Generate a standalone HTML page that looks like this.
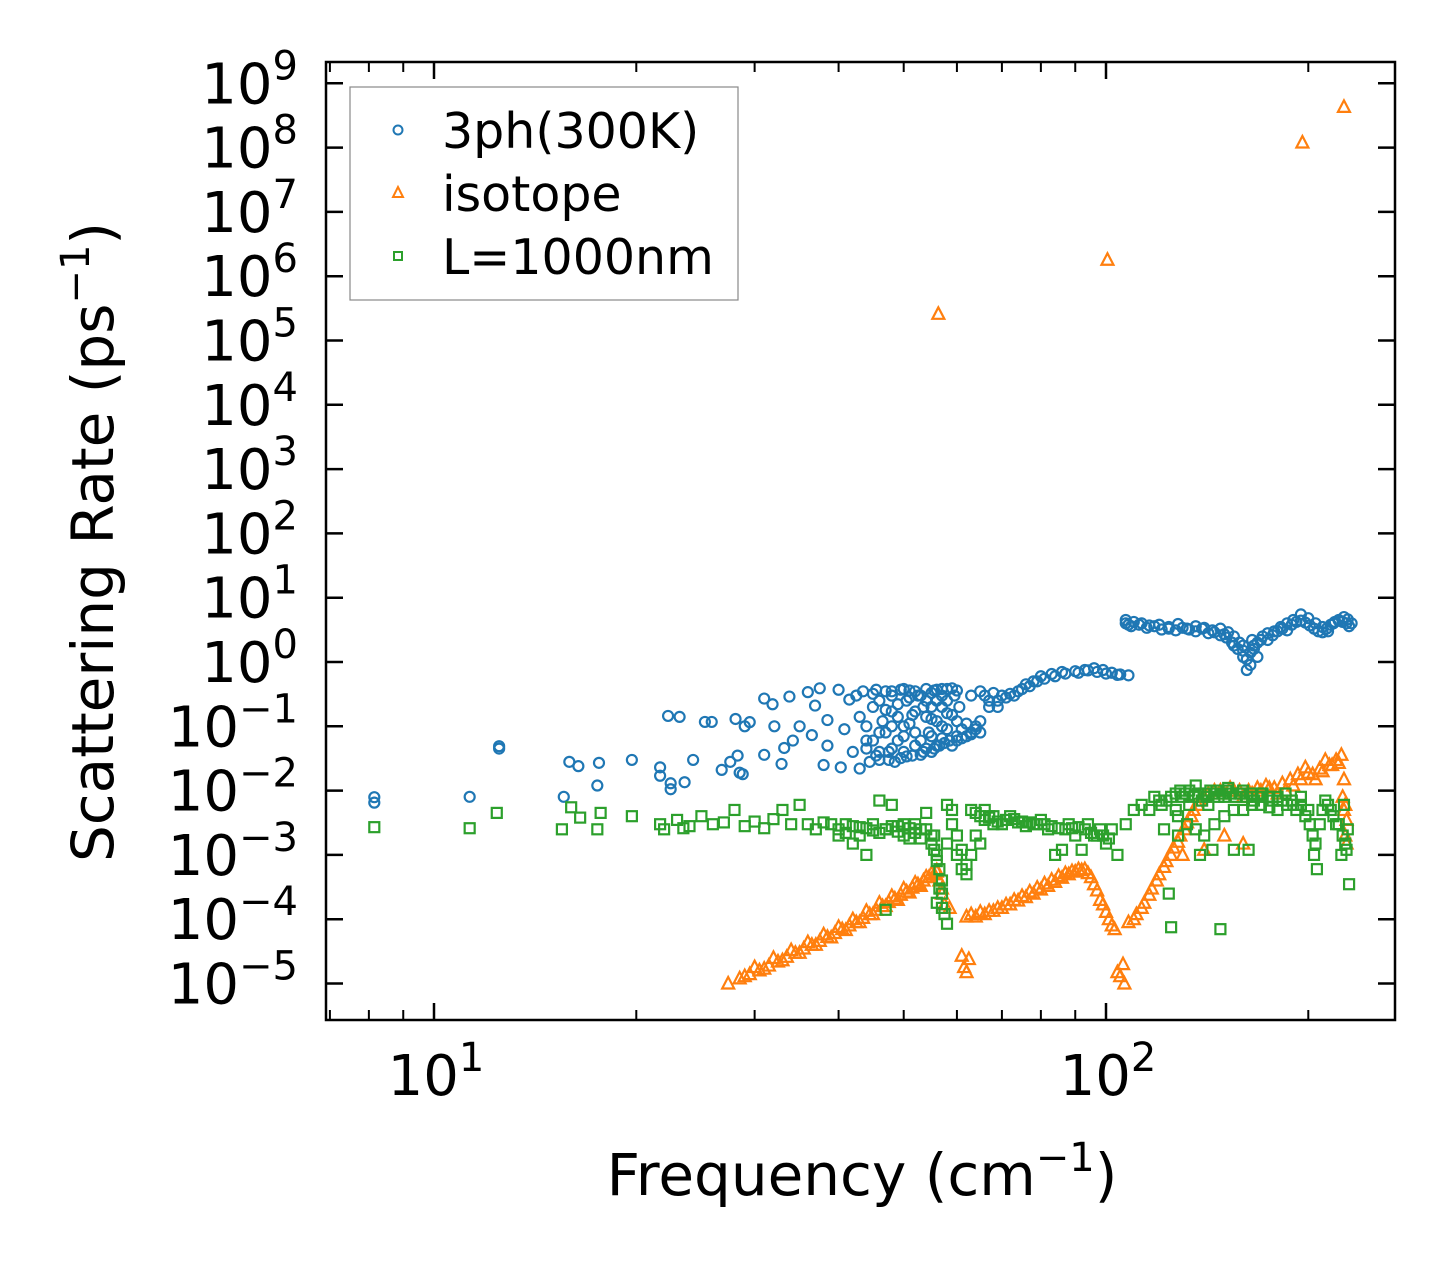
<!DOCTYPE html>
<html><head><meta charset="utf-8"><style>
html,body{margin:0;padding:0;background:#fff}
svg{display:block;font-family:"DejaVu Sans","Liberation Sans",sans-serif}
</style></head><body>
<svg id="chart" width="1455" height="1269" viewBox="0 0 1455 1269" xmlns="http://www.w3.org/2000/svg">
<g id="marks"></g>
<g id="axes"></g>
<g>
<rect x="350" y="87" width="388" height="213" fill="#fff" stroke="#888" stroke-width="1.2"/>
<circle cx="398" cy="130" r="4.5" fill="none" stroke="#1f77b4" stroke-width="2"/>
<text x="442" y="148" font-size="49">3ph(300K)</text>
<polygon points="398,187 393,197 403,197" fill="none" stroke="#ff7f0e" stroke-width="2"/>
<text x="442" y="211" font-size="49">isotope</text>
<rect x="394" y="252" width="8" height="8" fill="none" stroke="#2ca02c" stroke-width="2"/>
<text x="442" y="274" font-size="49">L=1000nm</text>
</g>
<text x="862" y="1195" font-size="58" text-anchor="middle">Frequency (cm<tspan dy="-24" font-size="40">−1</tspan><tspan dy="24">)</tspan></text>
<text transform="translate(113,542) rotate(-90)" font-size="58" text-anchor="middle">Scattering Rate (ps<tspan dy="-24" font-size="40">−1</tspan><tspan dy="24">)</tspan></text>
</svg>
<script>
const blueF=[8.15,8.15,11.3,12.5,12.5,15.6,15.9,16.4,17.5,17.6,19.7,21.7,21.7,22.3,22.5,22.5,23.2,23.6,24.3,25.3,25.9,26.8,27.6,28.1,28.3,28.5,28.8,29,29.5,31,31,31.9,32.1,32.9,33.2,33.8,34.2,35,36,36.5,36.9,37.5,38,38.5,38.5,40,40.3,40.8,41.5,42,42.5,43,43,43.5,44,44.5,45,45.5,46,46,46.5,47,47.5,48,48,48.5,49,49.5,50,50.5,50.5,51,51.5,52,52.5,53,53.5,54,54.5,55,55,55.5,56,56.5,57,57,58,58.5,59,59.5,60,60.5,61,62,63,64,65,66,67,68,69,70,72,74,76,78,80,83,86,90,93,96,99,102,105,108,107,108,110,113,116,120,124,128,132,136,140,144,148,152,155,158,160,162,164,166,168,170,174,178,182,186,190,195,200,205,210,214,218,222,226,229,232];
const blueV=[7.9e-3,6.5e-3,8e-3,0.049,0.045,8e-3,0.028,0.024,0.012,0.027,0.03,0.023,0.017,0.145,0.013,0.0105,0.14,0.0135,0.03,0.117,0.117,0.021,0.028,0.13,0.035,0.019,0.018,0.1,0.116,0.036,0.27,0.22,0.1,0.026,0.046,0.29,0.06,0.1,0.34,0.073,0.21,0.39,0.025,0.05,0.125,0.37,0.023,0.09,0.26,0.04,0.3,0.022,0.14,0.35,0.06,0.028,0.2,0.37,0.03,0.08,0.12,0.35,0.04,0.3,0.17,0.028,0.06,0.37,0.1,0.25,0.034,0.36,0.15,0.05,0.3,0.036,0.2,0.38,0.08,0.04,0.13,0.36,0.25,0.05,0.38,0.1,0.16,0.06,0.39,0.3,0.07,0.2,0.09,0.11,0.075,0.09,0.12,0.3,0.2,0.33,0.25,0.3,0.32,0.35,0.45,0.5,0.6,0.65,0.7,0.72,0.75,0.8,0.75,0.68,0.64,0.62,4.5,3.8,4.2,4,3.7,3.8,3.5,3.9,3.3,3.6,3.4,3.1,3.3,2.9,2.5,2,1.5,0.75,0.9,1.8,1.2,2.2,2.8,3,3.5,4,4.5,5.5,4.8,4,3.5,3,4,4.5,5,4.6,4,3.7];
const blueDenseF=[44,44,45,45,46,46,47,47,48,48,48,49,49,50,50,50,51,51,52,52,52,53,53,54,54,54,55,55,55,56,56,56,57,57,57,58,58,58,59,59,60,60,45.5,47.5,49.5,51.5,53.5,55.5,57.5,63,65,67,69,71,73,75,77,79,81,84,87,91,94,97,100,104,60,61,62,63,64,65,107,109,112,115,118,121,124,127,130,133,136,139,142,145,148,151,154,157,160,162,164,166,168,171,174,177,180,183,186,189,192,195,198,201,204,207,210,213,216,219,222,225,228,230,160,165,155,150];
const blueDenseV=[0.1,0.045,0.32,0.06,0.25,0.04,0.18,0.08,0.35,0.1,0.045,0.22,0.14,0.38,0.07,0.04,0.28,0.11,0.35,0.17,0.08,0.3,0.06,0.25,0.14,0.045,0.33,0.2,0.07,0.37,0.12,0.05,0.3,0.2,0.065,0.38,0.25,0.09,0.15,0.05,0.36,0.12,0.035,0.03,0.032,0.035,0.04,0.045,0.055,0.3,0.35,0.25,0.2,0.28,0.3,0.38,0.42,0.5,0.55,0.6,0.66,0.68,0.74,0.7,0.66,0.63,0.06,0.065,0.07,0.08,0.1,0.08,4,3.6,3.8,3.4,3.6,3.2,3.3,3.1,3.4,3.2,3,3.3,2.8,2.9,2.6,2.4,2,1.6,1.2,1.1,1.4,1.6,2,2.5,2.2,2.6,3,3.3,3.1,3.8,4.2,4.4,4.1,3.7,3.3,3,2.9,3.3,3.8,4.2,4.4,4.2,4,3.6,1.8,2.2,1.8,2.7];
const orangeF=[56.3,100.5,196,226,27.4,28.5,29.5,30.5,31.5,32.5,33.5,34.5,35.5,36.5,37.5,38.5,39.5,40.5,41.5,42.5,43.5,44.5,45.5,46.5,47.5,48.5,49.5,50.5,51.5,52.5,53.5,54.5,55.5,56,57,57.5,58.5,61,61.5,62,62.5,62,64,66,68,70,72,74,76,78,80,82,84,86,88,90,92,94,96,98,100,102,104,105,106,106.5,110,113,116,119,122,125,128,131,134,137,140,145,150,155,160,165,170,175,180,185,190,195,200,205,210,215,220,224,226,227,228,150,160,140,130];
const orangeV=[2.6e5,1.8e6,1.2e8,4.3e8,1e-5,1.2e-5,1.4e-5,1.6e-5,1.9e-5,2.2e-5,2.6e-5,3e-5,3.5e-5,4e-5,4.6e-5,5.3e-5,6.1e-5,7e-5,8e-5,9e-5,1.05e-4,1.2e-4,1.4e-4,1.6e-4,1.85e-4,2.1e-4,2.4e-4,2.7e-4,3.1e-4,3.5e-4,4e-4,4.5e-4,5e-4,5.8e-4,2.5e-4,1.7e-4,1.5e-4,2.7e-5,1.8e-5,1.5e-5,2.4e-5,1.1e-4,1.1e-4,1.2e-4,1.35e-4,1.5e-4,1.7e-4,1.95e-4,2.2e-4,2.5e-4,2.9e-4,3.3e-4,3.8e-4,4.4e-4,5e-4,5.5e-4,5.8e-4,5.2e-4,3.5e-4,2e-4,1.3e-4,8e-5,1.5e-5,1.3e-5,2e-5,1e-5,1e-4,1.5e-4,2.4e-4,4e-4,6.5e-4,1e-3,1.6e-3,2.5e-3,4e-3,6e-3,8e-3,1e-2,9e-3,1e-2,8e-3,9e-3,1e-2,1.1e-2,9e-3,1e-2,1.2e-2,1.5e-2,1.9e-2,1.5e-2,2e-2,2.5e-2,3e-2,3.6e-2,1.5e-2,6e-3,3.5e-3,2e-3,1.5e-3,1.2e-3,1e-3];
const orangeDenseF=[30,32,34,36,38,40,42,44,46,48,50,52,54,55,56,56.5,57,63,65,67,69,71,73,75,77,79,81,83,85,87,89,91,93,95,97,99,101,103,108,111,114,117,120,123,126,129,132,135,138,142,148,153,158,163,168,173,178,183,188,193,198,203,208,212,217,222,225,226,227,228,29,31,33,35,37,39,41,43,45,47,49,51,53];
const orangeDenseV=[1.8e-5,2.5e-5,3.3e-5,4.4e-5,5.8e-5,7.6e-5,1e-4,1.35e-4,1.8e-4,2.3e-4,3e-4,3.7e-4,4.6e-4,5.2e-4,5.5e-4,4e-4,3e-4,1.2e-4,1.3e-4,1.35e-4,1.5e-4,1.7e-4,2e-4,2.3e-4,2.7e-4,3.1e-4,3.6e-4,4.1e-4,4.7e-4,5.2e-4,5.6e-4,6e-4,6e-4,4.5e-4,2.8e-4,1.7e-4,1e-4,7e-5,9e-5,1.2e-4,1.8e-4,3e-4,5e-4,8e-4,1.3e-3,2e-3,3.2e-3,5e-3,7e-3,9e-3,1e-2,1.1e-2,1e-2,1e-2,1.1e-2,1.2e-2,1.1e-2,1.3e-2,1.5e-2,1.8e-2,2.3e-2,1.8e-2,2.2e-2,3e-2,2.5e-2,2.7e-2,8e-3,5e-3,2e-3,1.5e-3,1.3e-5,1.7e-5,2.3e-5,3e-5,4e-5,5.2e-5,6.8e-5,9e-5,1.2e-4,1.6e-4,2e-4,2.6e-4,3.3e-4];
const greenF=[8.15,11.3,12.4,15.5,16,16.5,17.5,17.7,19.7,21.7,22,23,23.5,24,25,26,27,28,29,30,31,32,33,34,35,36,37,38,39,40,41,42,43,44,45,46,47,47,48,49,50,51,52,53,54,55,56,56.5,57,58,58,59,60,61,62,63,64,65,66,67,68,70,72,74,76,78,80,82,84,86,88,90,92,94,96,98,100,102,104,107,110,113,116,118,120,122,124,125,127,128,130,133,136,138,140,142,144,146,148,150,152,155,158,160,163,166,170,175,180,185,190,195,200,204,206,208,212,216,220,224,226,228,230];
const greenV=[2.7e-3,2.6e-3,4.5e-3,2.5e-3,5.5e-3,3.8e-3,2.5e-3,4.5e-3,4e-3,3e-3,2.5e-3,3.5e-3,2.6e-3,2.8e-3,4e-3,3e-3,3.2e-3,5e-3,2.8e-3,3.3e-3,2.6e-3,3.6e-3,5e-3,3e-3,6e-3,3e-3,2.5e-3,3.2e-3,3e-3,2e-3,3e-3,1.5e-3,2.7e-3,1e-3,3e-3,7e-3,1.4e-4,2.5e-3,6e-3,2.8e-3,3e-3,1.8e-3,3e-3,2.5e-3,4.5e-3,2e-3,1e-3,3e-4,1.5e-4,8.5e-5,6e-3,5e-3,1e-3,6e-4,5e-4,1e-3,2e-3,1.5e-3,5e-3,4e-3,3e-3,3e-3,4e-3,3.2e-3,2.8e-3,3e-3,3.5e-3,2.5e-3,1e-3,1.2e-3,3e-3,2e-3,1.2e-3,3e-3,2e-3,2.5e-3,1.5e-3,2.5e-3,1e-3,3e-3,5e-3,6e-3,5e-3,8e-3,7e-3,2.5e-3,2.5e-4,7.5e-5,5e-3,2e-3,8e-3,6e-3,1.2e-2,1e-3,9e-3,6e-3,1.2e-3,1e-2,7e-5,8e-3,1.1e-2,1.2e-3,9e-3,1e-2,1.2e-3,7e-3,9e-3,8e-3,7e-3,9e-3,6e-3,8e-3,5e-3,1e-3,6e-4,3e-3,7e-3,5e-3,3e-3,1e-3,6e-3,1.2e-3,3.5e-4];
const greenDenseF=[40,41,42,43,44,45,46,47,48,49,50,51,52,53,54,55,55.5,56,56.5,57,57,56,57.5,55.5,58,59,60,61,62,63,64,65,66,67,68,69,71,73,75,77,79,81,83,85,87,89,91,93,95,97,99,101,121,123,125,127,129,131,133,135,137,139,141,143,145,147,149,151,153,156,159,162,165,168,171,174,177,180,183,186,189,192,195,198,201,203,205,210,214,218,222,225,227,229,128,132,136,140,145,150,155,160,165,170,175,180];
const greenDenseV=[2.5e-3,2.2e-3,2.8e-3,2e-3,2.6e-3,2.4e-3,2.2e-3,2.5e-3,2.8e-3,2.3e-3,2e-3,2.6e-3,2.2e-3,1.8e-3,2.5e-3,1.5e-3,1.2e-3,8e-4,6e-4,4e-4,2.5e-4,1.8e-4,1.2e-4,2e-3,1.5e-3,3e-3,2e-3,1.2e-3,7e-4,5e-3,4.5e-3,4e-3,3.5e-3,3.8e-3,4e-3,3.3e-3,3.5e-3,3.6e-3,3.3e-3,3.2e-3,3e-3,3e-3,2.8e-3,2.6e-3,2.5e-3,2.6e-3,2.7e-3,2.5e-3,2.2e-3,2e-3,2e-3,1.8e-3,6e-3,7e-3,8e-3,9e-3,1e-2,9e-3,1e-2,8e-3,9e-3,7e-3,8e-3,1e-2,9e-3,8e-3,9e-3,1e-2,9e-3,8e-3,9e-3,8e-3,9e-3,8e-3,9e-3,8e-3,7e-3,8e-3,7e-3,6e-3,7e-3,5e-3,6e-3,4e-3,3e-3,2e-3,1.5e-3,5e-3,6e-3,4e-3,3e-3,2e-3,1.5e-3,2.5e-3,4e-3,3e-3,2.5e-3,2e-3,3e-3,4e-3,5e-3,5e-3,6e-3,6e-3,5.5e-3,5e-3];
const yTickExp=[-5,-4,-3,-2,-1,0,1,2,3,4,5,6,7,8,9];
const xTickExp=[1,2];
const xMinor=[7,8,9,20,30,40,50,60,70,80,90,200];

const L=326,R=1395,T=62,B=1020;
const X=f=>434+(Math.log10(f)-1)*672;
const Y=v=>662-Math.log10(v)*64.3;
const NS="http://www.w3.org/2000/svg";
function mk(tag,at,parent){const e=document.createElementNS(NS,tag);for(const k in at)e.setAttribute(k,at[k]);parent.appendChild(e);return e;}
const marks=document.getElementById('marks'),axes=document.getElementById('axes');
function circles(F,V){F.forEach((f,i)=>{const c=mk('circle',{cx:X(f),cy:Y(V[i]),r:5,fill:'none',stroke:'#1f77b4','stroke-width':2.2},marks);

});}
function tris(F,V){F.forEach((f,i)=>{const x=X(f),y=Y(V[i]);const p=mk('polygon',{points:`${x},${y-6.5} ${x-6},${y+5} ${x+6},${y+5}`,fill:'none',stroke:'#ff7f0e','stroke-width':2.2},marks);

});}
function squares(F,V){F.forEach((f,i)=>{const x=X(f),y=Y(V[i]);const s=mk('rect',{x:x-5,y:y-5,width:10,height:10,fill:'none',stroke:'#2ca02c','stroke-width':2.2},marks);

});}
circles(blueF,blueV);circles(blueDenseF,blueDenseV);
tris(orangeF,orangeV);tris(orangeDenseF,orangeDenseV);
squares(greenF,greenV);squares(greenDenseF,greenDenseV);
const fr=mk('rect',{x:L,y:T,width:R-L,height:B-T,fill:'none',stroke:'#000','stroke-width':2.5},axes);


yTickExp.forEach(e=>{const y=Y(Math.pow(10,e));
mk('line',{x1:L,x2:L+17,y1:y,y2:y,stroke:'#000','stroke-width':2.5},axes);
mk('line',{x1:R,x2:R-17,y1:y,y2:y,stroke:'#000','stroke-width':2.5},axes);
const t=mk('text',{x:298,y:y+20,'font-size':56,'text-anchor':'end'},axes);


t.innerHTML='10<tspan dy="-24" font-size="40">'+(e<0?'\u2212'+(-e):e)+'</tspan>';});
xTickExp.forEach(e=>{const x=X(Math.pow(10,e));
mk('line',{x1:x,x2:x,y1:B,y2:B-17,stroke:'#000','stroke-width':2.5},axes);
mk('line',{x1:x,x2:x,y1:T,y2:T+17,stroke:'#000','stroke-width':2.5},axes);
const t=mk('text',{x:x+2,y:1095,'font-size':56,'text-anchor':'middle'},axes);


t.innerHTML='10<tspan dy="-24" font-size="40">'+e+'</tspan>';});
xMinor.forEach(m=>{const x=X(m);
mk('line',{x1:x,x2:x,y1:B,y2:B-10,stroke:'#000','stroke-width':2},axes);
mk('line',{x1:x,x2:x,y1:T,y2:T+10,stroke:'#000','stroke-width':2},axes);});
</script>
</body></html>
